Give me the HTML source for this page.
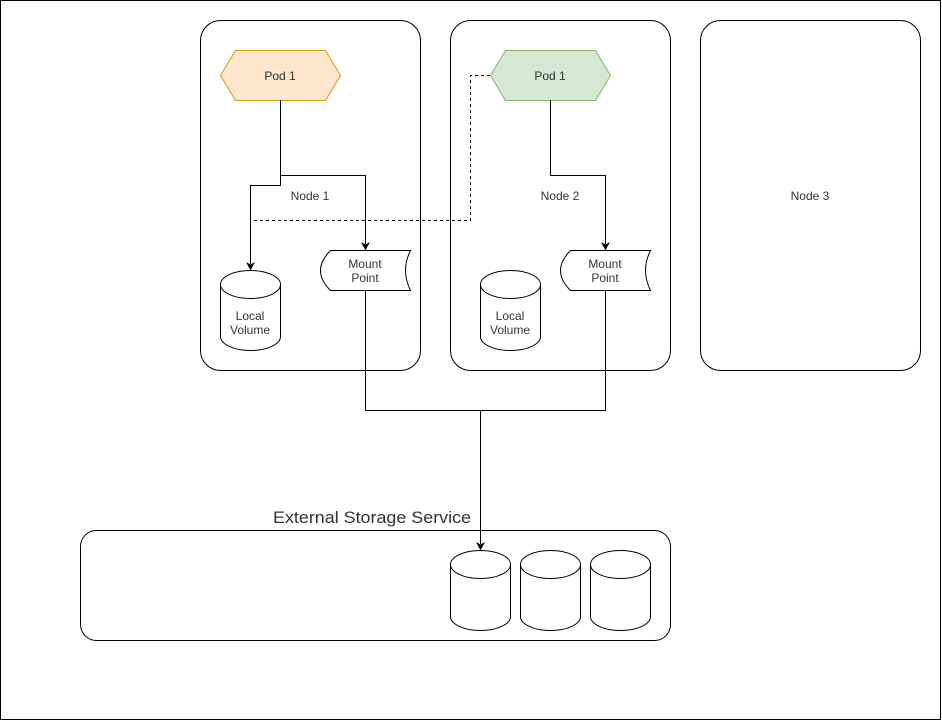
<!DOCTYPE html>
<html><head><meta charset="utf-8"><style>
html,body{margin:0;padding:0;background:#fff}
svg{display:block}
text{font-family:"Liberation Sans",Arial,sans-serif;font-size:12px;fill:#333}
</style></head><body>
<svg width="942" height="721" viewBox="0 0 942 721" xmlns="http://www.w3.org/2000/svg">
<rect x="0.5" y="0.5" width="940" height="719" fill="#fff" stroke="#000"/>
<g fill="#fff" stroke="#000">
<rect x="200.5" y="20.5" width="220" height="350" rx="20"/>
<rect x="450.5" y="20.5" width="220" height="350" rx="20"/>
<rect x="700.5" y="20.5" width="220" height="350" rx="20"/>
<rect x="80.5" y="530.5" width="590" height="110" rx="16"/>
</g>
<text x="310" y="200" text-anchor="middle">Node 1</text>
<text x="560" y="200" text-anchor="middle">Node 2</text>
<text x="810" y="200" text-anchor="middle">Node 3</text>
<text x="273" y="523" textLength="198" lengthAdjust="spacingAndGlyphs" style="font-size:17px">External Storage Service</text>
<polygon points="235.5,50.5 325.5,50.5 340.5,75.5 325.5,100.5 235.5,100.5 220.5,75.5" fill="#ffe6cc" stroke="#d79b00"/>
<polygon points="505.5,50.5 595.5,50.5 610.5,75.5 595.5,100.5 505.5,100.5 490.5,75.5" fill="#d5e8d4" stroke="#82b366"/>
<text x="280" y="80" text-anchor="middle">Pod 1</text>
<text x="550" y="80" text-anchor="middle">Pod 1</text>
<g fill="none" stroke="#000">
<path d="M280.5,100 V175.5 H365.5 V244"/>
<path d="M280.5,175 V185.5 H250.5 V264"/>
<path d="M550.5,100 V175.5 H605.5 V244"/>
<path d="M490,75.5 H470.5 V220.5 H250.5" stroke-dasharray="3,3"/>
<path d="M365.5,290 V410.5 H605.5 V290"/>
<path d="M480.5,410 V544"/>
</g>
<g fill="#000">
<polygon points="361,242 365.5,250.5 370,242 365.5,244.5"/>
<polygon points="246,262 250.5,270.5 255,262 250.5,264.5"/>
<polygon points="601,242 605.5,250.5 610,242 605.5,244.5"/>
<polygon points="476,542 480.5,550.5 485,542 480.5,544.5"/>
</g>
<g fill="#fff" stroke="#000">
<path d="M330.5,250.5 H410.5 Q400.5,270.5 410.5,290.5 H330.5 Q310.5,270.5 330.5,250.5 Z"/>
<path d="M570.5,250.5 H650.5 Q640.5,270.5 650.5,290.5 H570.5 Q550.5,270.5 570.5,250.5 Z"/>
</g>
<text x="365" y="268" text-anchor="middle">Mount</text>
<text x="365" y="282" text-anchor="middle">Point</text>
<text x="605" y="268" text-anchor="middle">Mount</text>
<text x="605" y="282" text-anchor="middle">Point</text>
<g fill="#fff" stroke="#000">
<g transform="translate(220.5,270.5)"><path d="M0,14 A30,14 0 0 1 60,14 V66 A30,14 0 0 1 0,66 Z"/><path d="M0,14 A30,14 0 0 0 60,14" fill="none"/></g>
<g transform="translate(480.5,270.5)"><path d="M0,14 A30,14 0 0 1 60,14 V66 A30,14 0 0 1 0,66 Z"/><path d="M0,14 A30,14 0 0 0 60,14" fill="none"/></g>
<g transform="translate(450.5,550.5)"><path d="M0,14 A30,14 0 0 1 60,14 V66 A30,14 0 0 1 0,66 Z"/><path d="M0,14 A30,14 0 0 0 60,14" fill="none"/></g>
<g transform="translate(520.5,550.5)"><path d="M0,14 A30,14 0 0 1 60,14 V66 A30,14 0 0 1 0,66 Z"/><path d="M0,14 A30,14 0 0 0 60,14" fill="none"/></g>
<g transform="translate(590.5,550.5)"><path d="M0,14 A30,14 0 0 1 60,14 V66 A30,14 0 0 1 0,66 Z"/><path d="M0,14 A30,14 0 0 0 60,14" fill="none"/></g>
</g>
<text x="250" y="320" text-anchor="middle">Local</text>
<text x="250" y="334" text-anchor="middle">Volume</text>
<text x="510" y="320" text-anchor="middle">Local</text>
<text x="510" y="334" text-anchor="middle">Volume</text>
</svg>
</body></html>
